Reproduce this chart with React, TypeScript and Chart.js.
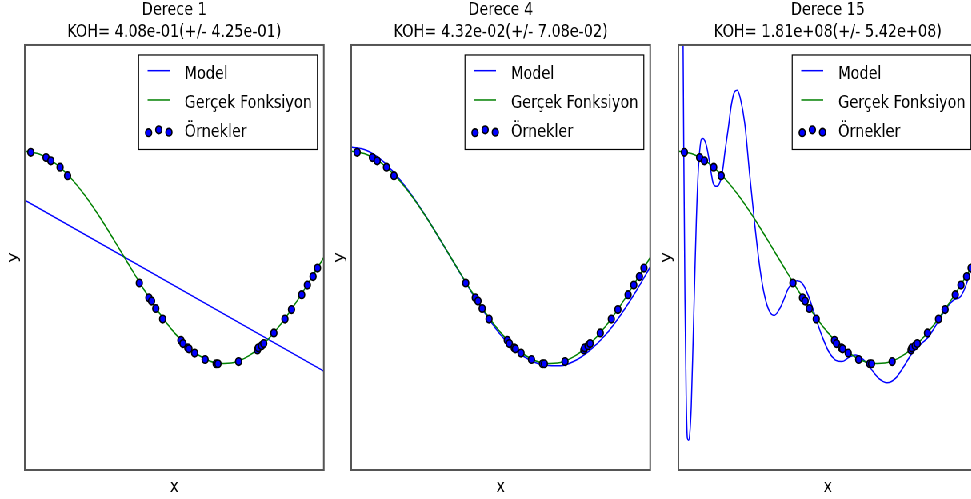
import React, { useEffect, useRef } from 'react';
import { Chart, registerables } from 'chart.js';

Chart.register(...registerables);

// ---------------- data ----------------
const sampleX = [0.020, 0.071, 0.087, 0.118, 0.143, 0.383, 0.415, 0.424, 0.438, 0.461, 0.522, 0.529, 0.545, 0.549, 0.568, 0.603, 0.640, 0.646, 0.715, 0.778, 0.781, 0.792, 0.799, 0.833, 0.870, 0.892, 0.926, 0.945, 0.964, 0.979];
const sampleY = [0.99, 0.94, 0.91, 0.85, 0.77, -0.24, -0.38, -0.41, -0.48, -0.58, -0.78, -0.81, -0.85, -0.86, -0.90, -0.96, -1.00, -1.00, -0.98, -0.87, -0.85, -0.83, -0.81, -0.71, -0.58, -0.49, -0.35, -0.26, -0.18, -0.10];

const trueX = [0, 0.05, 0.1, 0.15, 0.2, 0.25, 0.3, 0.35, 0.4, 0.45, 0.5, 0.55, 0.6, 0.65, 0.7, 0.75, 0.8, 0.85, 0.9, 0.95, 1.0];
const trueY = [1.0, 0.972, 0.891, 0.760, 0.588, 0.383, 0.156, -0.078, -0.309, -0.522, -0.707, -0.853, -0.951, -0.997, -0.988, -0.924, -0.809, -0.649, -0.454, -0.233, 0.0];

const model1X = [0, 1];
const model1Y = [0.54, -1.07];

const model4X = [0, 0.05, 0.1, 0.15, 0.2, 0.25, 0.3, 0.35, 0.4, 0.45, 0.5, 0.55, 0.6, 0.65, 0.7, 0.75, 0.8, 0.85, 0.9, 0.95, 1.0];
const model4Y = [1.04, 1.01, 0.92, 0.775, 0.595, 0.385, 0.155, -0.08, -0.315, -0.535, -0.73, -0.875, -0.97, -1.015, -1.02, -0.97, -0.87, -0.73, -0.545, -0.33, -0.09];

const model15X = [0, 0.0157, 0.018, 0.022, 0.026, 0.030, 0.034, 0.038, 0.043, 0.049, 0.055, 0.060, 0.066, 0.071, 0.077, 0.083, 0.088, 0.094, 0.099, 0.105, 0.110, 0.116, 0.122, 0.128, 0.133, 0.139, 0.144, 0.150, 0.155, 0.166, 0.177, 0.188, 0.197, 0.207, 0.222, 0.238, 0.255, 0.272, 0.289, 0.305, 0.320, 0.339, 0.352, 0.366, 0.380, 0.397, 0.414, 0.436, 0.458, 0.481, 0.503, 0.525, 0.547, 0.570, 0.592, 0.614, 0.642, 0.670, 0.698, 0.726, 0.753, 0.782, 0.809, 0.837, 0.865, 0.893, 0.921, 0.943, 0.960, 0.977, 1.0];
const model15Y = [8, 2.0, 0.99, -0.4, -1.3, -1.70, -1.72, -1.66, -1.40, -0.80, -0.15, 0.35, 0.79, 1.0, 1.115, 1.12, 1.10, 1.05, 0.98, 0.88, 0.79, 0.70, 0.675, 0.67, 0.676, 0.71, 0.76, 0.86, 0.98, 1.2, 1.435, 1.56, 1.575, 1.50, 1.26, 0.79, 0.32, -0.09, -0.37, -0.51, -0.545, -0.48, -0.40, -0.30, -0.243, -0.218, -0.243, -0.37, -0.557, -0.745, -0.887, -0.965, -0.98, -0.94, -0.918, -0.95, -1.04, -1.137, -1.178, -1.137, -1.03, -0.90, -0.82, -0.745, -0.62, -0.49, -0.40, -0.37, -0.275, -0.13, 0.08];

const panelTitles = ['Derece 1', 'Derece 4', 'Derece 15'];
const panelScores = ['KOH= 4.08e-01(+/- 4.25e-01)', 'KOH= 4.32e-02(+/- 7.08e-02)', 'KOH= 1.81e+08(+/- 5.42e+08)'];
const legendLabels = ['Model', 'Gerçek Fonksiyon', 'Örnekler'];
const xAxisLabel = 'x';
const yAxisLabel = 'y';

const modelXs = [model1X, model4X, model15X];
const modelYs = [model1Y, model4Y, model15Y];

// ---------------- layout (unscaled coordinates) ----------------
const SCALE_X = 0.8;
const PLOT_LEFTS = [31.25, 438.75, 847.5];
const PLOT_W = 373.75;
const PAD_SIDE = 30;
const CANVAS_W = 434;
const CANVAS_H = 499;
const FONT = '18px "DejaVu Sans", "Liberation Sans", sans-serif';
const DOT_R = 3.8;
const DOT_BW = 1.6;

const pts = (xs: number[], ys: number[]) => xs.map((x, i) => ({ x, y: ys[i] }));

const decorPlugin = {
  id: 'decor',
  afterDraw(chart: any) {
    const { ctx, chartArea } = chart;
    const { left, right, top, bottom } = chartArea;
    ctx.save();
    // frame
    ctx.strokeStyle = '#555555';
    ctx.lineWidth = 2;
    ctx.strokeRect(left, top, right - left, bottom - top);

    // axis labels
    ctx.fillStyle = '#000';
    ctx.font = FONT;
    ctx.textAlign = 'center';
    ctx.textBaseline = 'alphabetic';
    ctx.fillText(xAxisLabel, (left + right) / 2, 491.5);
    ctx.save();
    ctx.translate(left - 15, (top + bottom) / 2);
    ctx.rotate(-Math.PI / 2);
    ctx.textBaseline = 'middle';
    ctx.fillText(yAxisLabel, 0, 0);
    ctx.restore();

    // legend
    const bw = 223.5;
    const bh = 94.5;
    const bx = right - 8 - bw;
    const by = top + 10;
    ctx.fillStyle = '#ffffff';
    ctx.fillRect(bx, by, bw, bh);
    ctx.strokeStyle = '#000000';
    ctx.lineWidth = 1.2;
    ctx.strokeRect(bx, by, bw, bh);

    ctx.lineWidth = 1.5;
    ctx.strokeStyle = '#0000ff';
    ctx.beginPath();
    ctx.moveTo(bx + 11.25, by + 15.7);
    ctx.lineTo(bx + 38.75, by + 15.7);
    ctx.stroke();
    ctx.strokeStyle = '#008000';
    ctx.beginPath();
    ctx.moveTo(bx + 11.25, by + 45);
    ctx.lineTo(bx + 38.75, by + 45);
    ctx.stroke();
    const dots = [[12.5, 77.7], [25.2, 74.8], [37.9, 77.2]];
    dots.forEach(([dx, dy]) => {
      ctx.beginPath();
      ctx.arc(bx + dx, by + dy, DOT_R, 0, Math.PI * 2);
      ctx.fillStyle = '#0000ff';
      ctx.fill();
      ctx.lineWidth = DOT_BW;
      ctx.strokeStyle = '#000000';
      ctx.stroke();
    });

    ctx.fillStyle = '#000';
    ctx.font = FONT;
    ctx.textAlign = 'left';
    ctx.textBaseline = 'alphabetic';
    ctx.fillText(legendLabels[0], bx + 57.5, by + 24);
    ctx.fillText(legendLabels[1], bx + 57.5, by + 53);
    ctx.fillText(legendLabels[2], bx + 57.5, by + 82.3);
    ctx.restore();
  },
};

function Panel({ index }: { index: number }) {
  const ref = useRef<HTMLCanvasElement | null>(null);
  useEffect(() => {
    if (!ref.current) return;
    const chart = new Chart(ref.current, {
      type: 'line',
      data: {
        datasets: [
          {
            type: 'scatter',
            label: legendLabels[2],
            data: pts(sampleX, sampleY),
            showLine: false,
            pointRadius: DOT_R,
            pointBackgroundColor: '#0000ff',
            pointBorderColor: '#000000',
            pointBorderWidth: DOT_BW,
          } as any,
          {
            label: legendLabels[1],
            data: pts(trueX, trueY),
            borderColor: '#008000',
            borderWidth: 1.5,
            pointRadius: 0,
            fill: false,
            cubicInterpolationMode: 'monotone',
          },
          {
            label: legendLabels[0],
            data: pts(modelXs[index], modelYs[index]),
            borderColor: '#0000ff',
            borderWidth: 1.5,
            pointRadius: 0,
            fill: false,
            cubicInterpolationMode: 'monotone',
          },
        ],
      },
      options: {
        animation: false,
        responsive: false,
        maintainAspectRatio: false,
        events: [],
        layout: { padding: { left: PAD_SIDE, right: CANVAS_W - PAD_SIDE - PLOT_W, top: 0, bottom: 29 } },
        plugins: {
          legend: { display: false },
          tooltip: { enabled: false },
          title: {
            display: true,
            text: [panelTitles[index], panelScores[index]],
            color: '#000',
            font: { family: '"DejaVu Sans", "Liberation Sans", sans-serif', size: 18, weight: 'normal', lineHeight: 1.18 },
            padding: { top: 0, bottom: 2.5 },
          },
        },
        scales: {
          x: { type: 'linear', min: 0, max: 1, display: false },
          y: { type: 'linear', min: -2, max: 2, display: false },
        },
      } as any,
      plugins: [decorPlugin],
    });
    return () => chart.destroy();
  }, [index]);
  return (
    <canvas
      ref={ref}
      width={CANVAS_W}
      height={CANVAS_H}
      style={{ position: 'absolute', left: PLOT_LEFTS[index] - PAD_SIDE, top: 0, width: CANVAS_W, height: CANVAS_H }}
    />
  );
}

export default function App() {
  useEffect(() => {
    document.body.style.margin = '0';
    document.body.style.overflow = 'hidden';
  }, []);
  return (
    <div style={{ position: 'relative', width: 971, height: 499, overflow: 'hidden', background: '#fff' }}>
      <div
        style={{
          position: 'absolute',
          left: 0,
          top: 0,
          width: 1300,
          height: 499,
          transform: `scaleX(${SCALE_X})`,
          transformOrigin: '0 0',
        }}
      >
        <Panel index={0} />
        <Panel index={1} />
        <Panel index={2} />
      </div>
    </div>
  );
}
